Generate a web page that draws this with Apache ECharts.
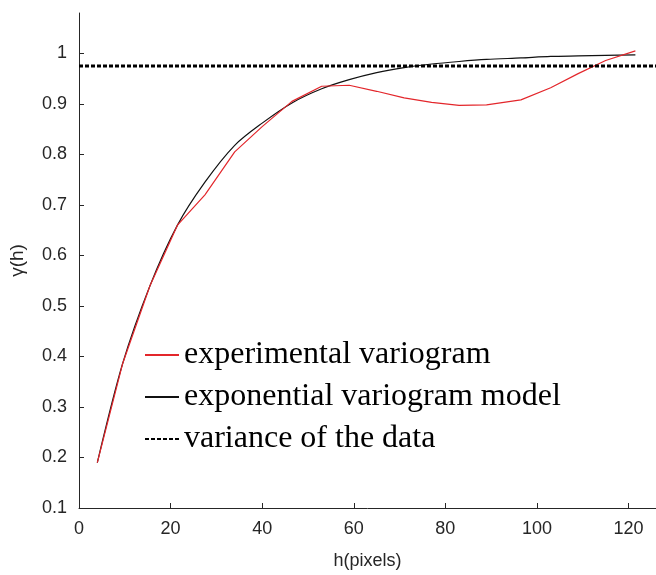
<!DOCTYPE html>
<html>
<head>
<meta charset="utf-8">
<script src="https://cdn.jsdelivr.net/npm/echarts@6/dist/echarts.min.js"></script>
<style>
  html, body { margin: 0; padding: 0; background: #fff; }
  #chart { width: 656px; height: 575px; }
</style>
</head>
<body>
<div id="chart"></div>
<script>
// lag distances (pixels)
const lags = [4, 9.5, 15.5, 21.5, 27.5, 34, 40, 46.5, 53, 59, 65, 71, 77, 83, 89, 96.5, 103, 109, 115, 121.5]
const experimental = [0.19, 0.385, 0.54, 0.66, 0.72, 0.805, 0.855, 0.905, 0.935, 0.937, 0.925, 0.912, 0.903, 0.897, 0.898, 0.908, 0.932, 0.96, 0.986, 1.005]
// fitted exponential model
const expModel = [0.19, 0.385, 0.54, 0.66, 0.745, 0.818, 0.862, 0.902, 0.93, 0.948, 0.962, 0.972, 0.979, 0.984, 0.988, 0.991, 0.994, 0.995, 0.996, 0.997]
// variance of the data (horizontal line)
const varianceX = [0, 126]
const varianceY = [0.975, 0.975]

const xTicks = [0, 20, 40, 60, 80, 100, 120]
const yTicks = [0.1, 0.2, 0.3, 0.4, 0.5, 0.6, 0.7, 0.8, 0.9, 1]

const pairs = (xs, ys) => xs.map((x, i) => [x, ys[i]])

const chart = echarts.init(document.getElementById('chart'))
const axisColor = '#262626'

chart.setOption({
  animation: false,
  grid: { left: 76, right: 0, top: 13, bottom: 64 },
  legend: {
    orient: 'vertical',
    left: 144,
    top: 334,
    padding: 0,
    itemWidth: 34,
    itemHeight: 14,
    itemGap: 0,
    itemStyle: { opacity: 0 },
    textStyle: {
      fontFamily: 'Liberation Serif',
      fontSize: 32,
      lineHeight: 42,
      color: '#000'
    },
    data: ['experimental variogram', 'exponential variogram model', 'variance of the data']
  },
  xAxis: {
    type: 'value',
    min: 0,
    max: 126,
    name: 'h(pixels)',
    nameLocation: 'middle',
    nameGap: 44,
    nameTextStyle: { fontFamily: 'Liberation Sans', fontSize: 18, color: axisColor },
    axisLine: { lineStyle: { color: axisColor, width: 1 } },
    axisTick: { inside: true, length: 5, customValues: xTicks, lineStyle: { color: axisColor } },
    axisLabel: { customValues: xTicks, fontFamily: 'Liberation Sans', fontSize: 18, color: axisColor, margin: 12 },
    splitLine: { show: false }
  },
  yAxis: {
    type: 'value',
    min: 0.1,
    max: 1.08,
    name: 'γ(h)',
    nameLocation: 'middle',
    nameRotate: 90,
    nameGap: 52,
    nameTextStyle: { fontFamily: 'Liberation Sans', fontSize: 19, color: axisColor },
    axisLine: { show: true, lineStyle: { color: axisColor, width: 1 } },
    axisTick: { show: true, inside: true, length: 5, customValues: yTicks, lineStyle: { color: axisColor } },
    axisLabel: { customValues: yTicks, fontFamily: 'Liberation Sans', fontSize: 18, color: axisColor, margin: 12 },
    splitLine: { show: false }
  },
  series: [
    {
      name: 'experimental variogram',
      type: 'line',
      data: pairs(lags, experimental),
      symbol: 'none',
      z: 3,
      lineStyle: { color: '#e3262b', width: 1.2 },
      itemStyle: { color: '#e3262b' }
    },
    {
      name: 'exponential variogram model',
      type: 'line',
      data: pairs(lags, expModel),
      symbol: 'none',
      smooth: 0.3,
      z: 2,
      lineStyle: { color: '#111', width: 1.2 },
      itemStyle: { color: '#111' }
    },
    {
      name: 'variance of the data',
      type: 'line',
      data: pairs(varianceX, varianceY),
      symbol: 'none',
      z: 4,
      lineStyle: { color: '#000', width: 3, type: [4, 2] },
      itemStyle: { color: '#000' }
    }
  ]
})
</script>
</body>
</html>
